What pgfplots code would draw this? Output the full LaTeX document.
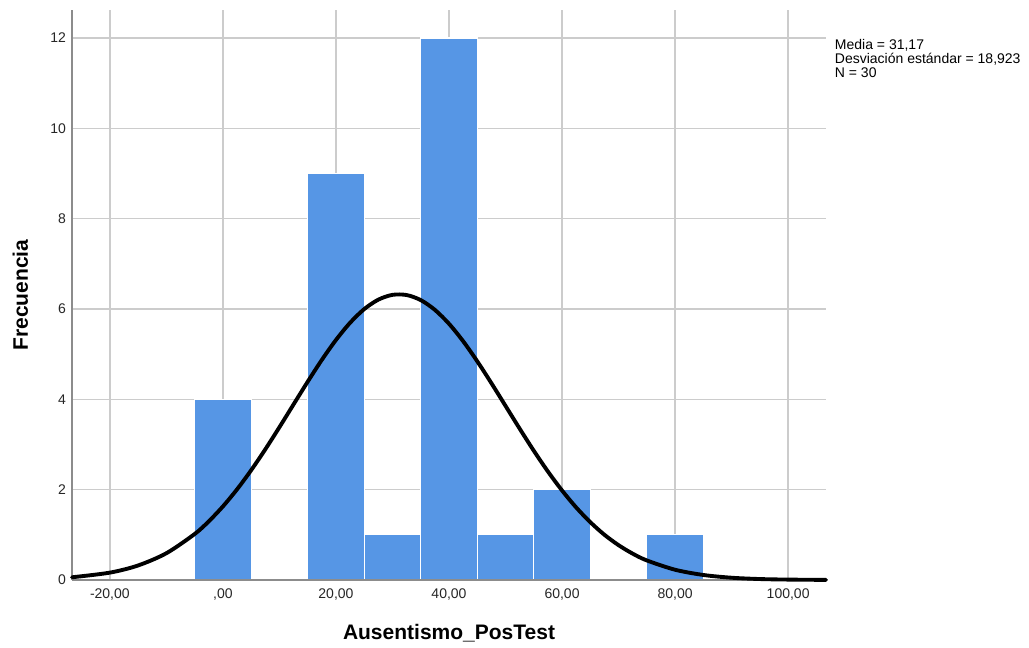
\documentclass[border=0pt]{standalone}
\usepackage{pgfplots}
\pgfplotsset{compat=1.18}
\usepackage{fontspec}
\setmainfont{Liberation Sans}
\definecolor{barblue}{RGB}{86,150,229}
\definecolor{gridgray}{RGB}{204,204,204}
\definecolor{axisgray}{RGB}{140,140,140}
\begin{document}
\begin{tikzpicture}
\path[use as bounding box] (-54pt,-51pt) rectangle (717.75pt,435pt);
\begin{axis}[
  anchor=south west, at={(0,0)},
  scale only axis,
  width=565.5pt, height=427.5pt,
  xmin=-26.7, xmax=106.7,
  ymin=0, ymax=12.62,
  axis x line*=bottom, axis y line*=left,
  axis line style={axisgray, line width=1.1pt},
  x axis line style={-}, y axis line style={-},
  xtick={-20,0,20,40,60,80,100},
  xticklabels={-20{,}00,{,00},20{,}00,40{,}00,60{,}00,80{,}00,100{,}00},
  ytick={0,2,4,6,8,10,12},
  major tick length=0pt,
  grid=major,
  major grid style={gridgray, line width=1.1pt},
  tick label style={font=\fontsize{10.5pt}{12pt}\selectfont, text=black!85},
  /pgf/number format/assume math mode=true,
  xticklabel style={yshift=-3pt},
  yticklabel style={xshift=-1pt},
  xlabel={\bfseries Ausentismo\_PosTest},
  ylabel={\bfseries Frecuencia},
  label style={font=\fontsize{15.75pt}{18pt}\selectfont},
  xlabel style={at={(axis description cs:0.5,0)}, anchor=base, yshift=-45pt},
  ylabel style={at={(axis description cs:0,0.5)}, anchor=base, rotate=0, xshift=0pt, yshift=33pt},
  clip=false,
]
\addplot[ybar, bar width=10, fill=barblue, draw=white, line width=0.8pt]
  coordinates {(0,4) (20,9) (30,1) (40,12) (50,1) (60,2) (80,1)};
\addplot[axisgray, line width=1.1pt] coordinates {(-26.7,0) (106.7,0)};
\addplot[black, line width=2.9pt, smooth, line cap=round] coordinates {
(-26.7,0.060) (-20,0.163) (-15,0.322) (-10,0.593) (-5,1.018) (-2.5,1.299) (0,1.629) (2.5,2.007) (5,2.431)
(7.5,2.893) (10,3.383) (12.5,3.888) (15,4.390) (17.5,4.873) (20,5.314) (22.5,5.695) (25,5.998) (27.5,6.207) (30,6.313) (32.5,6.309) (35,6.197)
(37.5,5.981) (40,5.673) (42.5,5.287) (45,4.842) (47.5,4.358) (50,3.855) (52.5,3.351) (55,2.862) (57.5,2.402) (60,1.982) (62.5,1.606) (65,1.280) (67.5,1.001) (70,0.771)
(72.5,0.583) (75,0.433) (80,0.227) (85,0.111) (90,0.050) (95,0.021) (100,0.009) (106.7,0.002)};
\end{axis}
\node[anchor=north west, align=left, inner sep=0pt, font=\fontsize{10.5pt}{10.6pt}\selectfont]
  at (572pt,405.5pt) {Media = 31,17\\Desviación estándar = 18,923\\N = 30};
\end{tikzpicture}
\end{document}
